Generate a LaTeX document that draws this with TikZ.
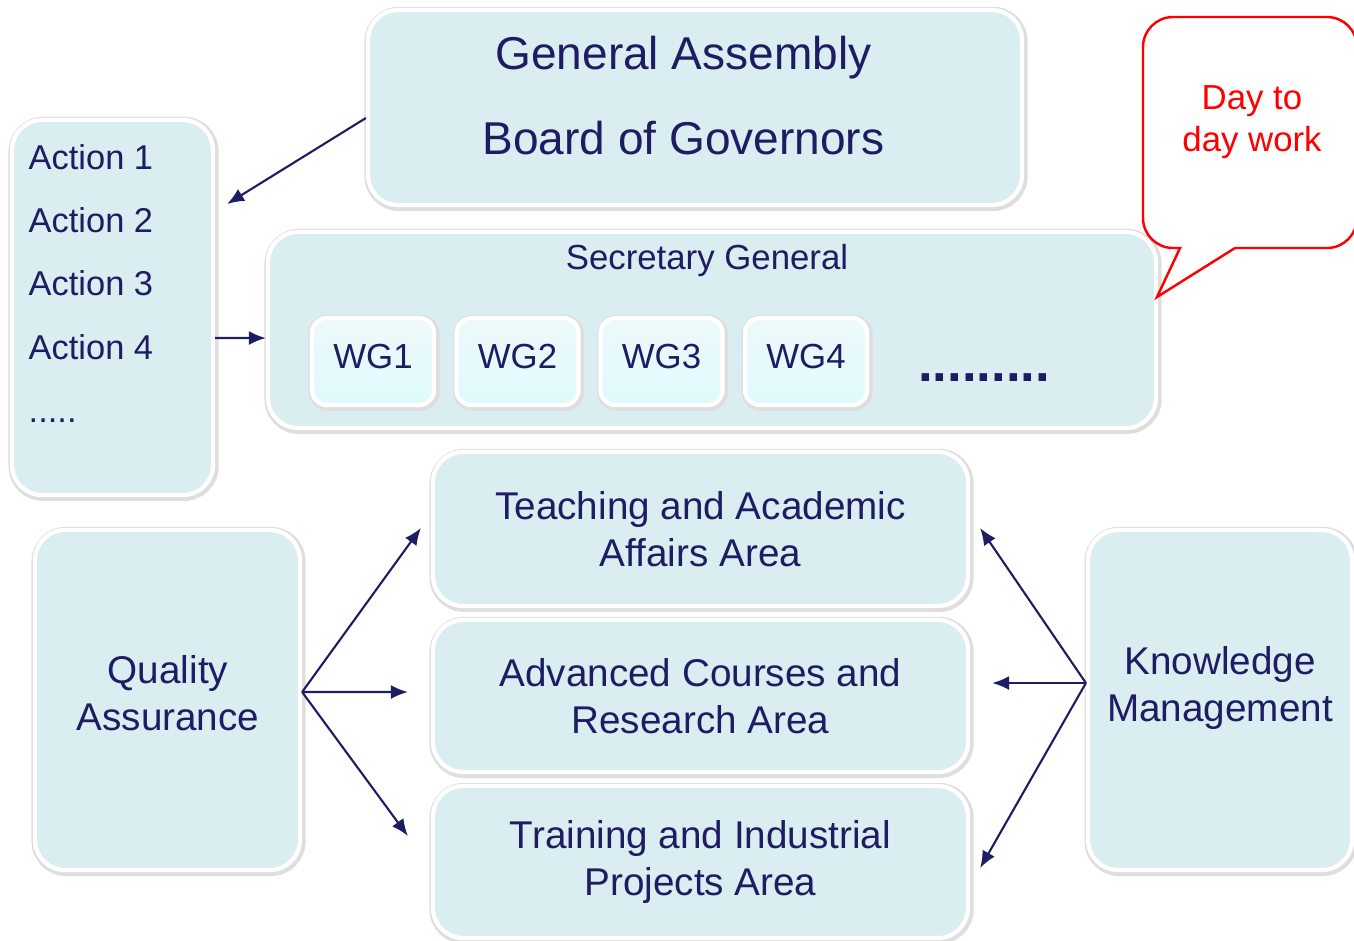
\documentclass[tikz,border=0pt]{standalone}
\usepackage{fontspec}
\setmainfont{Liberation Sans}
\usetikzlibrary{arrows,arrows.meta,calc}
\usepackage{color}

\definecolor{navy}{RGB}{30,28,98}
\definecolor{boxfill}{RGB}{218,237,240}
\definecolor{wgtop}{RGB}{238,249,250}
\definecolor{wgbot}{RGB}{222,250,252}

\tikzset{
  areabox/.style={rectangle, rounded corners=0.3cm, fill=boxfill, draw=white, line width=1.2pt,
    preaction={draw=black!13, line width=2.6pt, transform canvas={xshift=0.3pt, yshift=-0.4pt}},
    text=navy, align=center, inner sep=0pt, font=\fontsize{11}{13.4}\selectfont},
  areatext/.style={text=navy, align=center, inner sep=0pt, font=\fontsize{11}{13.4}\selectfont},
  wgbox/.style={areabox, rounded corners=0.15cm, top color=wgtop, bottom color=wgbot,
    minimum width=1.22cm, minimum height=0.87cm, text depth=0.11cm, font=\fontsize{9.9}{12}\selectfont},
  gatext/.style={text=navy, anchor=base, inner sep=0pt, font=\fontsize{13.1}{16}\selectfont},
  smalltext/.style={text=navy, anchor=base, inner sep=0pt, font=\fontsize{9.9}{12}\selectfont},
  acttext/.style={text=navy, anchor=base west, inner sep=0pt, font=\fontsize{9.8}{12}\selectfont},
  callouttext/.style={text=red, align=center, inner sep=0pt, font=\fontsize{9.9}{12}\selectfont},
  callout/.style={draw=red, fill=white, line width=0.7pt},
  link/.style={->, draw=navy, line width=0.6pt}
}

\begin{document}
\begin{tikzpicture}[auto, >={Latex[length=1.7mm, width=1.4mm]}]
\useasboundingbox (0, 0) rectangle (13.54, -9.40);

% governing bodies
\node[areabox, minimum width=6.54cm, minimum height=1.95cm] at (6.95, -1.075) (GEN_ASSEMBLY) {};
\node[gatext] at (6.835, -0.69) (GA_TXT) {General Assembly};
\node[gatext] at (6.835, -1.545) (BG_TXT) {Board of Governors};

% actions
\node[areabox, minimum width=2.01cm, minimum height=3.75cm] at (1.125, -3.075) (ACTIONS) {};
\foreach \i in {1,...,4}
  \node[acttext] at (0.28, {-1.693-0.633*(\i-1)}) (ACTION_\i) {Action \i};
\node[acttext] at (0.28, -4.22) (ACTION_MORE) {.....};

% secretary general and working groups
\node[areabox, minimum width=8.88cm, minimum height=1.96cm] at (7.12, -3.30) (SEC_GEN) {};
\node[smalltext] at (7.07, -2.69) (SEC_GEN_TXT) {Secretary General};
\foreach \x [count=\i] in {3.73, 5.175, 6.615, 8.06}
  \node[wgbox] at (\x, -3.615) (WG\i) {WG\i};
\node[smalltext, font=\fontsize{15}{18}\bfseries] at (9.84, -3.81) (WG_MORE) {.........};

% callout
\draw[callout] (11.57, -2.97) -- (12.35, -2.48) -- (13.27, -2.48)
  arc[start angle=-90, end angle=0, radius=0.3] -- (13.57, -0.47)
  arc[start angle=0, end angle=90, radius=0.3] -- (11.73, -0.17)
  arc[start angle=90, end angle=180, radius=0.3] -- (11.43, -2.18)
  arc[start angle=180, end angle=270, radius=0.3] -- (11.80, -2.48) -- cycle;
\node[callouttext] at (12.52, -1.22) (DAY_WORK) {Day to\\day work};

% areas
\node[areabox, minimum width=5.35cm, minimum height=1.54cm] at (7.005, -5.29) (TEACHING) {Teaching and Academic\\Affairs Area};
\node[areabox, minimum width=5.35cm, minimum height=1.52cm] at (7.005, -6.96) (ADVANCED) {Advanced Courses and\\Research Area};
\node[areabox, minimum width=5.35cm, minimum height=1.52cm] at (7.005, -8.62) (TRAINING) {Training and Industrial\\Projects Area};
\node[areabox, minimum width=2.65cm, minimum height=3.40cm] at (1.675, -7.00) (QUALITY) {};
\node[areatext] at (1.68, -6.935) (QUALITY_TXT) {Quality\\Assurance};
\node[areabox, minimum width=2.64cm, minimum height=3.40cm] at (12.20, -7.00) (KNOWLEDGE) {};
\node[areatext] at (12.20, -6.88) (KNOWLEDGE_TXT) {Knowledge\\Management};

% links
\draw[link] ($(GEN_ASSEMBLY.west)+(0, -0.105)$) -- ($(ACTIONS.east)+(0.12, 1.035)$);
\draw[link] ($(ACTIONS.east)+(0, -0.305)$) -- ($(SEC_GEN.west)+(0, -0.08)$);
\draw[link] ($(QUALITY.east)+(0, 0.08)$) -- ($(TEACHING.west)+(-0.10, 0.01)$);
\draw[link] ($(QUALITY.east)+(0, 0.08)$) -- ($(ADVANCED.west)+(-0.23, 0.04)$);
\draw[link] ($(QUALITY.east)+(0, 0.08)$) -- ($(TRAINING.west)+(-0.23, 0.26)$);
\draw[link] ($(KNOWLEDGE.west)+(0, 0.17)$) -- ($(TEACHING.east)+(0.10, 0.01)$);
\draw[link] ($(KNOWLEDGE.west)+(0, 0.17)$) -- ($(ADVANCED.east)+(0.22, 0.13)$);
\draw[link] ($(KNOWLEDGE.west)+(0, 0.17)$) -- ($(TRAINING.east)+(0.10, -0.06)$);
\end{tikzpicture}
\end{document}
